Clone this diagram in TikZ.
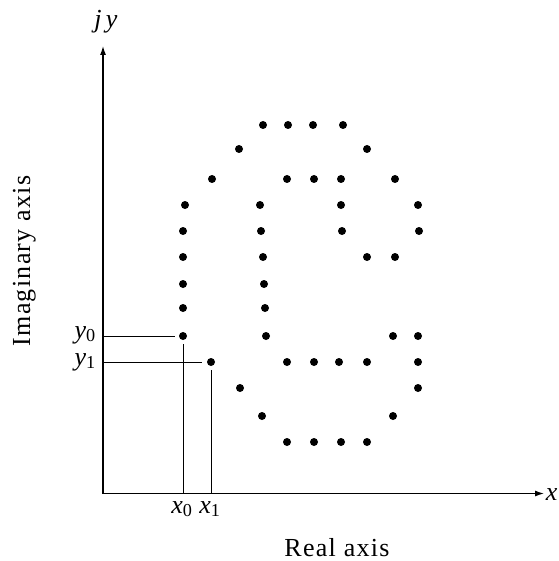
\documentclass[tikz,border=0pt]{standalone}
\usepackage{fontspec}
\setmainfont{Liberation Serif}
\newfontfamily\spacedfont[LetterSpace=5]{Liberation Serif}
\usetikzlibrary{arrows.meta}
\tikzset{
  axisline/.style={line width=1.2pt, -{Latex[length=9pt,width=6pt]}},
  guide/.style={line width=0.9pt},
  pt/.style={circle, fill=black, inner sep=0pt, minimum size=8pt},
  lbl/.style={font=\fontsize{26}{30}\selectfont\itshape, inner sep=0pt},
  axlbl/.style={font=\fontsize{26}{30}\spacedfont, inner sep=0pt},
}
\begin{document}
\begin{tikzpicture}[x=1pt,y=-1pt]
\useasboundingbox (0,0) rectangle (558,561);
% axes
\coordinate (O) at (103,493.5);
\coordinate (ytip) at (103,46);
\coordinate (xtip) at (544,493.5);
\draw[axisline] (O) -- (ytip);
\draw[axisline] (O) -- (xtip);
\node[lbl, anchor=base] (jy) at (106,28) {j\,y};
\node[lbl, anchor=base east] (xl) at (557.5,500) {x};
% dots
\foreach \yy/\xs in {
  125/{263,288,313,343},
  149/{239,367},
  179/{212,287,314,341,395},
  205/{185,260,341,418},
  231/{183,261,342,419},
  257/{183,263,367,395},
  284/{183,264},
  308/{183,265},
  336/{266,393,418},
  362/{287,314,339,367,418},
  388/{240,418},
  416/{262,393},
  442/{287,314,341,367}}{
  \foreach \xx in \xs { \node[pt] at (\xx,\yy) {}; }
}
\node[pt] (p0) at (183,336) {};
\node[pt] (p1) at (211,362) {};
% guide lines
\coordinate (a0) at (103,336);
\coordinate (a1) at (103,362);
\coordinate (b0) at (183,493.5);
\coordinate (b1) at (211,493.5);
\draw[guide] (a0) -- ([xshift=-4pt]p0.west);
\draw[guide] (a1) -- ([xshift=-5pt]p1.west);
\draw[guide] ([yshift=-4pt]p0.south) -- (b0);
\draw[guide] ([yshift=-4pt]p1.south) -- (b1);
% labels
\node[lbl, anchor=base east] (y0) at (96,338) {y\textsubscript{\upshape 0}};
\node[lbl, anchor=base east] (y1) at (96,365) {y\textsubscript{\upshape 1}};
\node[lbl, anchor=base] (x0) at (182,513) {x\textsubscript{\upshape 0}};
\node[lbl, anchor=base] (x1) at (210,513) {x\textsubscript{\upshape 1}};
\node[axlbl, anchor=base] (real) at (337,556) {Real axis};
\node[axlbl, anchor=base, rotate=90] (imag) at (30,261) {Imaginary axis};
\end{tikzpicture}
\end{document}
